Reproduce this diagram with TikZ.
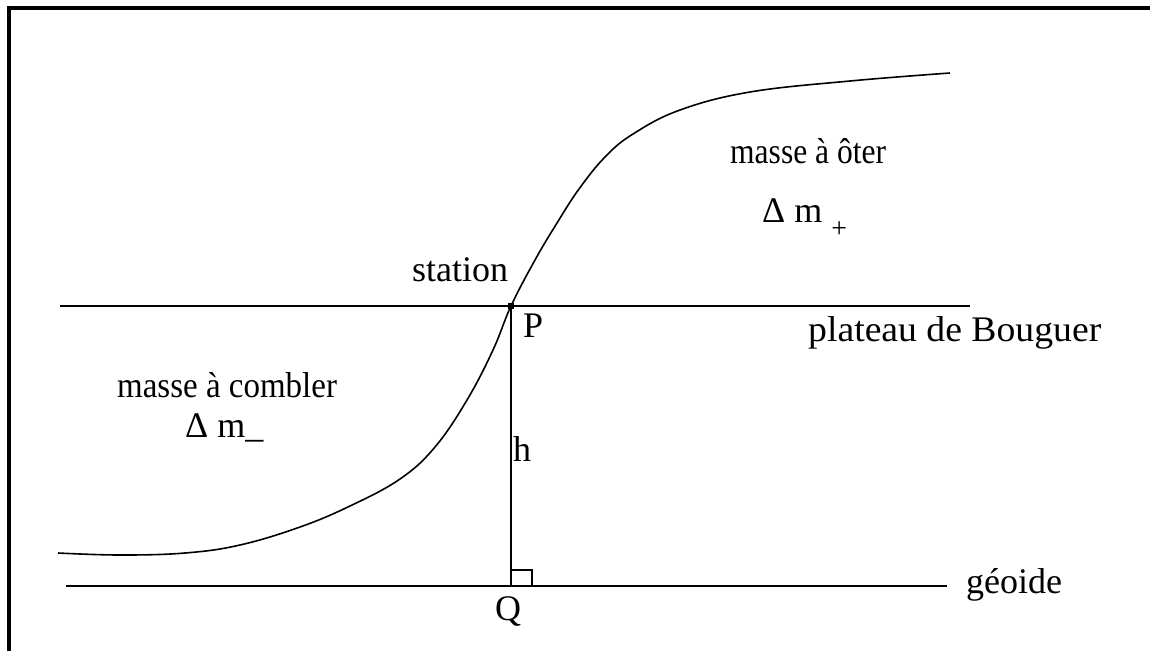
\documentclass[tikz,border=0pt]{standalone}
\usepackage{fontspec}
\setmainfont{Liberation Serif}
\begin{document}
\begin{tikzpicture}[x=1pt,y=-1pt,
  thin line/.style={line width=1.6pt},
  frame line/.style={line width=4pt},
  lbl/.style={inner sep=0pt,anchor=base west,font=\fontsize{36}{43}\selectfont}]
\useasboundingbox (0,0) rectangle (1150,651);
% frame
\draw[frame line] (9,651) -- (9,8) -- (1150,8);
% lines
\coordinate (pl0) at (60,306);
\coordinate (pl1) at (970,306);
\coordinate (ge0) at (66,586);
\coordinate (ge1) at (947,586);
\coordinate (P) at (511,306);
\coordinate (Q) at (511,586);
\draw[thin line] (pl0) -- (pl1);
\draw[thin line] (ge0) -- (ge1);
\draw[thin line] (P) -- (Q);
\draw[thin line] (Q) ++(0,-16) -- ++(21,0) -- ++(0,16);
\fill ([shift={(-3,-3)}]P) rectangle ++(6,6);
% terrain
\draw[thin line] plot[smooth,tension=0.65] coordinates {(58,553) (120,555) (185,553) (240,545) (300,527) (350,506) (400,479) (435,447) (467,400) (493,350) (511,306) (535,260) (557,223) (579,189) (605,157) (633,134) (680,110) (750,92) (850,81) (950,73)};
% labels
\node[lbl] (oter) at (730,163) {\scalebox{0.876}[1]{masse à ôter}};
\node[lbl] (dmp) at (762,222) {Δ m\hspace{9pt}\raisebox{-15pt}{\fontsize{28}{28}\selectfont +}};
\node[lbl] (station) at (412,281) {station};
\node[lbl] (Plbl) at (523,337) {P};
\node[lbl] (bouguer) at (808,341) {\scalebox{1.047}[1]{plateau de Bouguer}};
\node[lbl] (combler) at (117,397) {\scalebox{0.916}[1]{masse à combler}};
\node[lbl] (dmm) at (185,437) {Δ m\_};
\node[lbl] (h) at (513,461) {h};
\node[lbl] (geoide) at (966,593) {géoide};
\node[lbl] (Qlbl) at (495,620) {Q};
\end{tikzpicture}
\end{document}
